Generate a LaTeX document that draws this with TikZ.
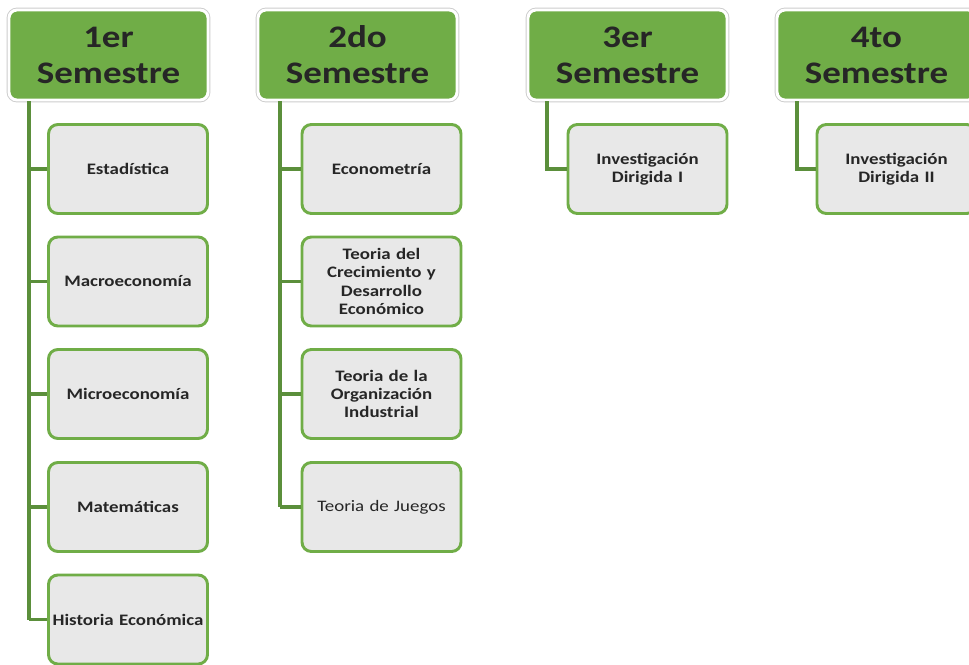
\documentclass[tikz,border=0pt]{standalone}
\usepackage{fontspec}
\setmainfont{Carlito}
\newfontfamily\widefont[FakeStretch=1.18]{Carlito}
\begin{document}
\begin{tikzpicture}[x=0.75pt,y=-0.75pt,
  head/.style={draw=white,line width=2.2pt,fill=hgreen,rounded corners=6pt,minimum width=199*0.75pt,minimum height=90*0.75pt,inner sep=0pt,align=center,font=\widefont\fontsize{23.5}{27}\selectfont\bfseries,text=black!85,
    preaction={draw=black!20,line width=3.6pt,rounded corners=6pt}},
  sub/.style={draw=hgreen,line width=2.2pt,fill=boxgrey,rounded corners=7pt,minimum width=159*0.75pt,minimum height=89*0.75pt,inner sep=1pt,text width=116pt,align=center,font=\widefont\fontsize{12}{13.6}\selectfont\bfseries,text=black!85},
  conn/.style={draw=lgreen,line width=2.8pt}]
\definecolor{hgreen}{HTML}{70AD47}
\definecolor{lgreen}{HTML}{5B8F3B}
\definecolor{boxgrey}{HTML}{E8E8E8}
\useasboundingbox[fill=white] (0,0) rectangle (969,664);
% headers
\node[head] (h1) at (108.5,55) {1er\\Semestre};
\node[head] (h2) at (357.5,55) {2do\\Semestre};
\node[head] (h3) at (627.5,55) {3er\\Semestre};
\node[head] (h4) at (876.5,55) {4to\\Semestre};
% column 1
\node[sub] (a1) at (128,169) {Estadística};
\node[sub] (a2) at (128,281.5) {Macroeconomía};
\node[sub] (a3) at (128,394) {Microeconomía};
\node[sub] (a4) at (128,507) {Matemáticas};
\node[sub] (a5) at (128,619.5) {Historia Económica};
% column 2
\node[sub] (b1) at (381.5,169) {Econometría};
\node[sub] (b2) at (381.5,281.5) {Teoria del\\Crecimiento y\\Desarrollo\\Económico};
\node[sub] (b3) at (381.5,394) {Teoria de la\\Organización\\Industrial};
\node[sub,font=\widefont\fontsize{12}{13.6}\selectfont\mdseries] (b4) at (381.5,507) {Teoria de Juegos};
% column 3, 4
\node[sub] (c1) at (647.5,169) {Investigación\\Dirigida I};
\node[sub] (d1) at (896.5,169) {Investigación\\Dirigida II};
% connectors
\foreach \n in {a1,a2,a3,a4,a5} \draw[conn] (\n.west) -- (29,0 |- \n.west);
\draw[conn] (29,101) -- (29,0 |- a5.west);
\foreach \n in {b1,b2,b3,b4} \draw[conn] (\n.west) -- (280,0 |- \n.west);
\draw[conn] (280,101) -- (280,0 |- b4.west);
\draw[conn] (547,101) |- (c1.west);
\draw[conn] (797,101) |- (d1.west);
\end{tikzpicture}
\end{document}
